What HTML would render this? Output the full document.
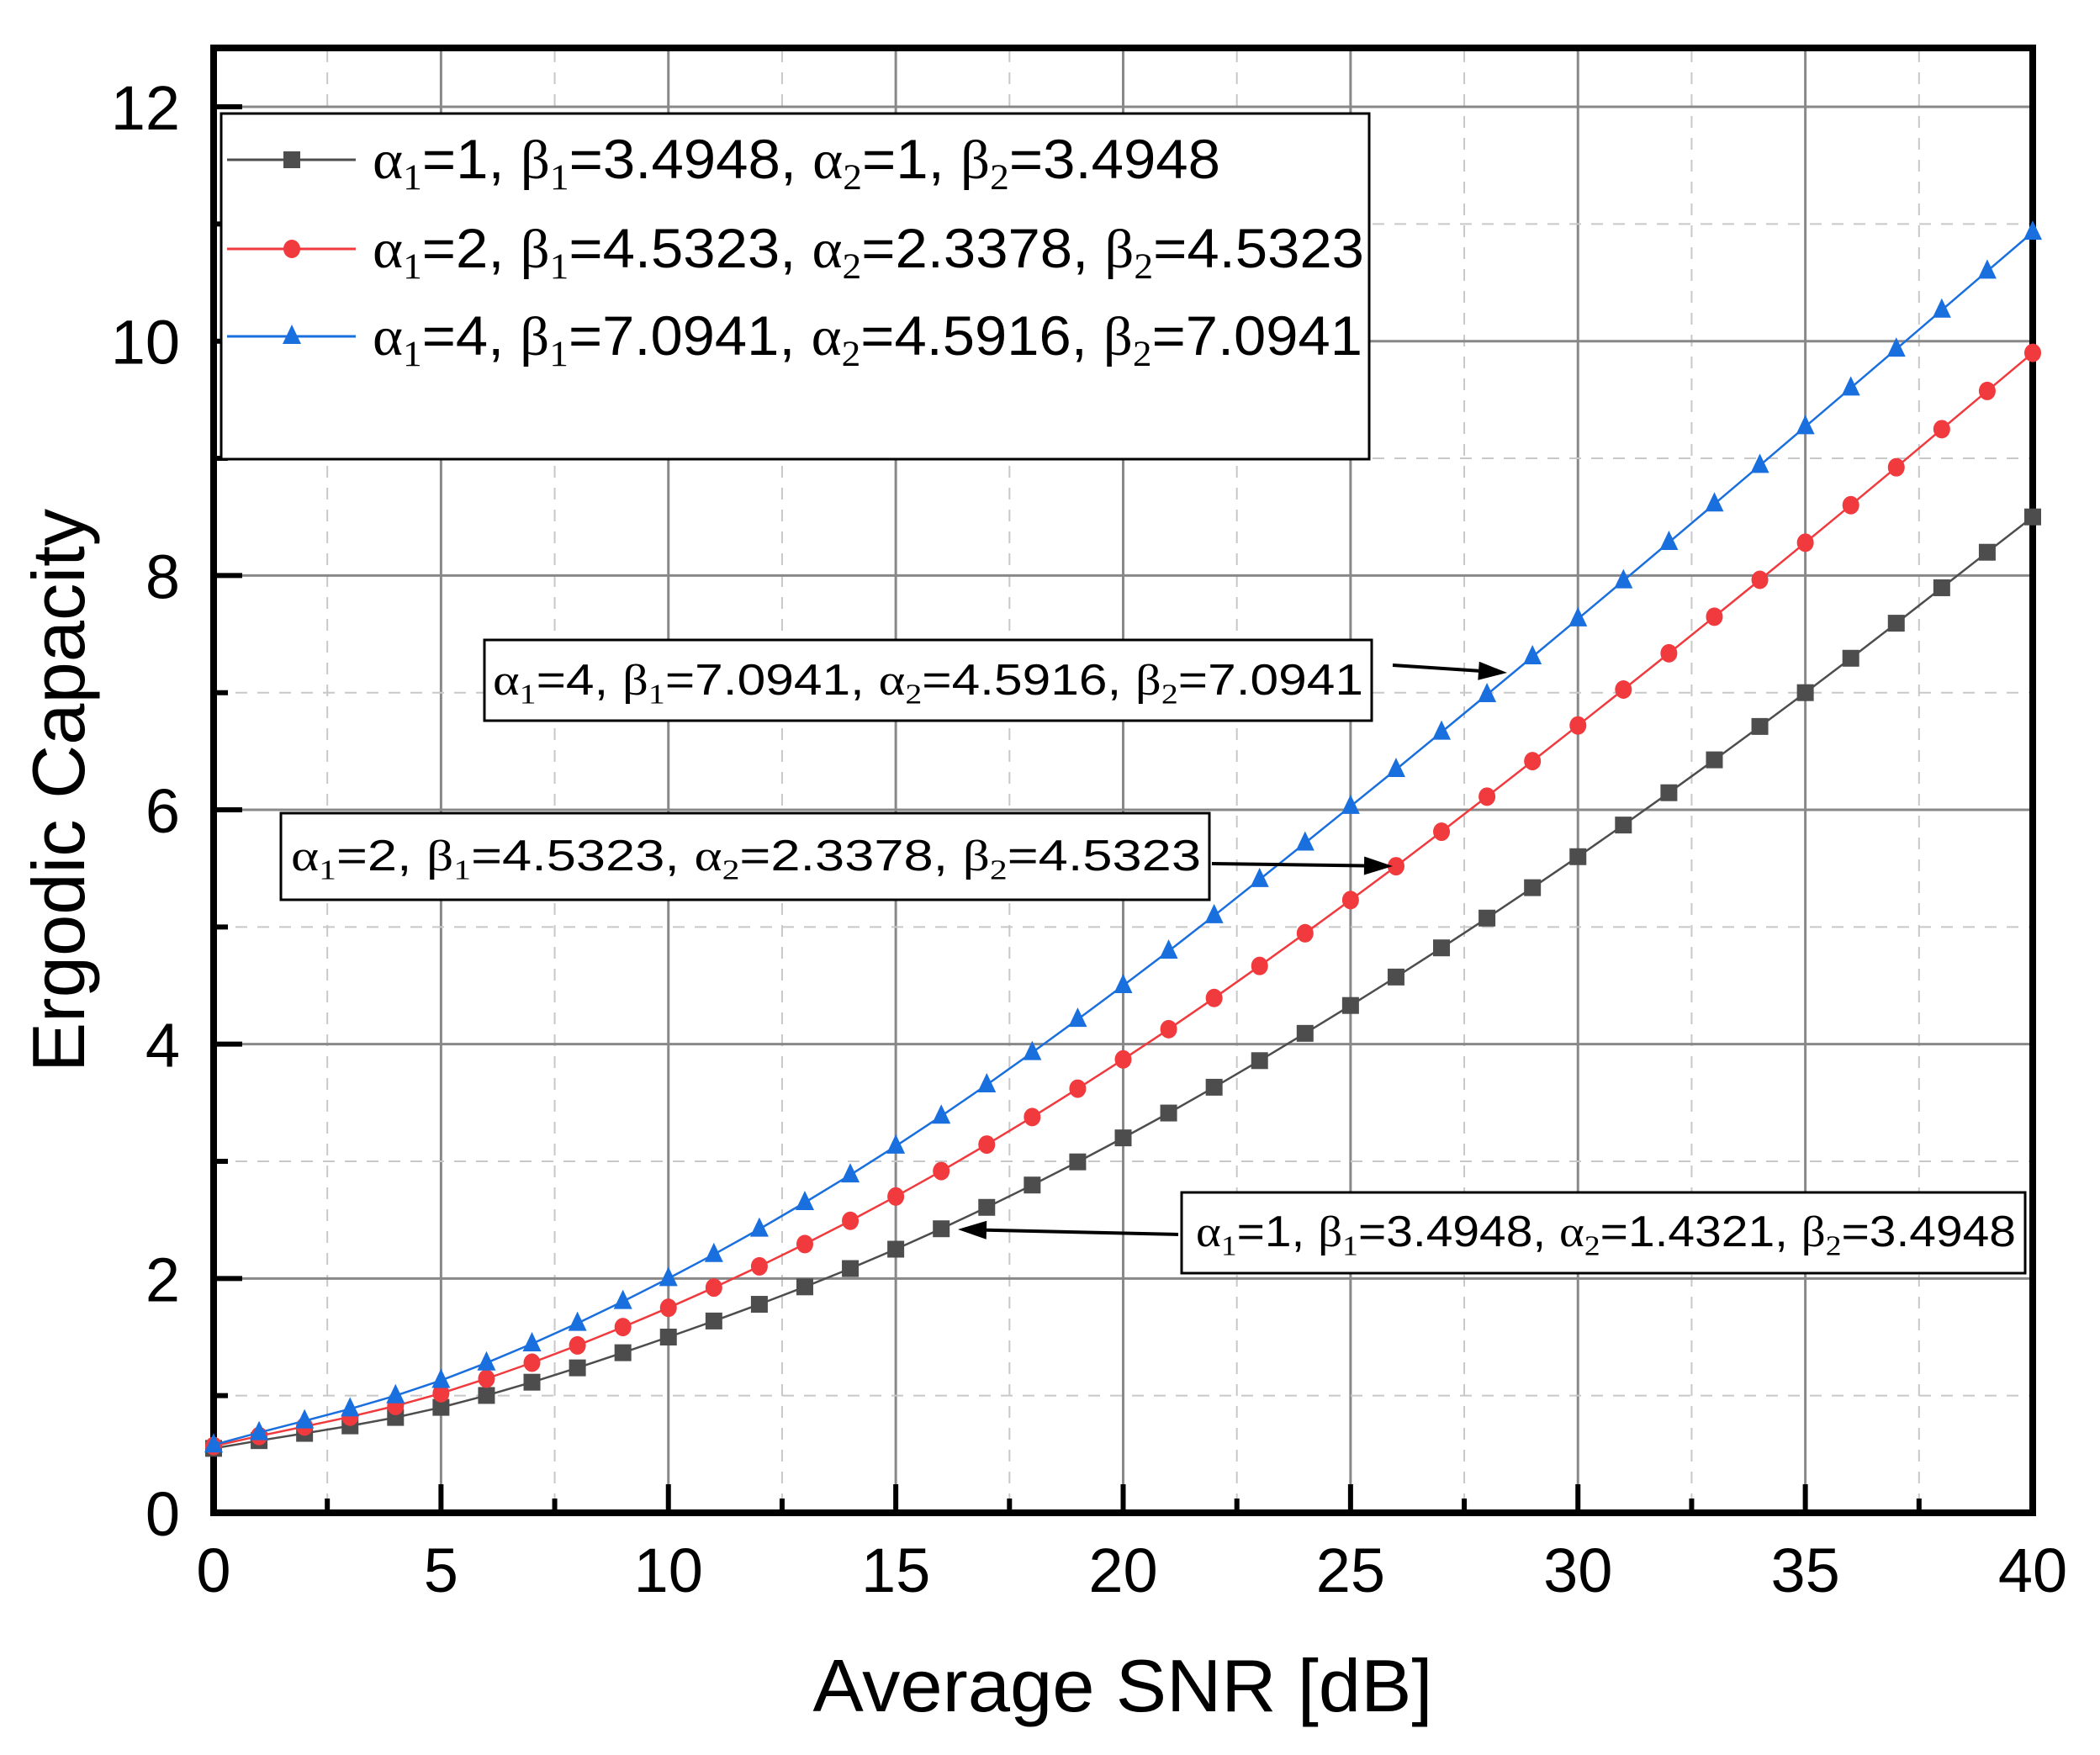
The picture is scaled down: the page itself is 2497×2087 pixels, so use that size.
<!DOCTYPE html>
<html><head><meta charset="utf-8"><style>html,body{margin:0;padding:0;background:#fff}svg{display:block}</style></head>
<body>
<svg id="s" xmlns="http://www.w3.org/2000/svg" width="2497" height="2087" viewBox="0 0 2497 2087" font-family="Liberation Sans, Arial, sans-serif">
<rect width="2497" height="2087" fill="#fff"/>
<g id="grid"></g>
<g id="axes"></g>
<rect x="263" y="135" width="1365" height="411" fill="#fff" stroke="#000" stroke-width="3"/>
<g id="curves"></g>
<g id="legend"></g>
<g id="ann"></g>
<text x="1335" y="2035" font-size="88" text-anchor="middle" textLength="737" lengthAdjust="spacingAndGlyphs">Average SNR [dB]</text>
<text transform="translate(100,940) rotate(-90)" font-size="88" text-anchor="middle" textLength="670" lengthAdjust="spacingAndGlyphs">Ergodic Capacity</text>
</svg>
<script>
const NS="http://www.w3.org/2000/svg";
const X=v=>254+v*54.075, Y=v=>1799-v*139.33;
function el(p,t,a,txt){const e=document.createElementNS(NS,t);for(const k in a)e.setAttribute(k,a[k]);if(txt!==undefined)e.textContent=txt;p.appendChild(e);return e;}
const g=document.getElementById('grid'),ax=document.getElementById('axes'),cv=document.getElementById('curves'),lg=document.getElementById('legend'),an=document.getElementById('ann');
// grid
for(let i=1;i<16;i++){const v=i*2.5,x=X(v);const major=i%2==0;
 el(g,'line',{x1:x,y1:60,x2:x,y2:1799,stroke:major?'#888':'#c8c8c8','stroke-width':major?3:2,'stroke-dasharray':major?'':'14,12'});}
for(let i=1;i<=12;i++){const y=Y(i);const major=i%2==0;
 el(g,'line',{x1:254,y1:y,x2:2417,y2:y,stroke:major?'#888':'#c8c8c8','stroke-width':major?3:2,'stroke-dasharray':major?'':'14,12'});}
// axes
el(ax,'rect',{x:254,y:57,width:2163,height:1742,fill:'none',stroke:'#000','stroke-width':8});
for(let i=0;i<=16;i++){const x=X(i*2.5),L=i%2==0?34:17;el(ax,'line',{x1:x,y1:1799,x2:x,y2:1799-L,stroke:'#000','stroke-width':6});}
for(let i=0;i<=12;i++){const y=Y(i),L=i%2==0?34:17;el(ax,'line',{x1:254,y1:y,x2:254+L,y2:y,stroke:'#000','stroke-width':6});}
for(let i=0;i<=8;i++)el(ax,'text',{x:X(i*5),y:1893,'font-size':74,'text-anchor':'middle'},String(i*5));
for(let i=0;i<=12;i+=2)el(ax,'text',{x:214,y:Y(i)+27,'font-size':74,'text-anchor':'end'},String(i));
// data
const A={gray:[0.55,0.9,1.5,2.25,3.2,4.33,5.6,7.0,8.5],red:[0.57,1.02,1.75,2.7,3.87,5.23,6.72,8.28,9.9],blue:[0.58,1.13,2.0,3.13,4.5,6.03,7.63,9.27,10.93]};
function val(a,x){const i=Math.min(7,Math.floor(x/5)),t=(x-i*5)/5;const p0=a[Math.max(0,i-1)],p1=a[i],p2=a[i+1],p3=a[Math.min(8,i+2)];
 let m0=(p2-(i>0?p0:p1-(p2-p1)))/2,m1=((i+2<=8?p3:p2+(p2-p1))-p1)/2;
 const t2=t*t,t3=t2*t;return (2*t3-3*t2+1)*p1+(t3-2*t2+t)*m0+(-2*t3+3*t2)*p2+(t3-t2)*m1;}
const cols={gray:'#4d4d4d',red:'#f03a3e',blue:'#1a6fdf'};
function marker(p,k,x,y){const c=cols[k];
 if(k=='gray')el(p,'rect',{x:x-10,y:y-10,width:20,height:20,fill:c});
 else if(k=='red')el(p,'ellipse',{cx:x,cy:y,rx:10,ry:11,fill:c});
 else el(p,'path',{d:`M${x},${y-14} L${x+11},${y+9} L${x-11},${y+9} Z`,fill:c});}
for(const k of ['gray','red','blue']){let pts=[];for(let i=0;i<=40;i++)pts.push(X(i).toFixed(1)+','+Y(val(A[k],i)).toFixed(1));
 el(cv,'polyline',{points:pts.join(' '),fill:'none',stroke:cols[k],'stroke-width':2.5});
 for(let i=0;i<=40;i++)marker(cv,k,X(i),Y(val(A[k],i)));}
// rich text
function rich(p,x,y,fs,parts,len){const t=el(p,'text',{x:x,y:y,'font-size':fs});if(len){t.setAttribute('textLength',len);t.setAttribute('lengthAdjust','spacingAndGlyphs');}
 for(const [s,type] of parts){const ts=el(t,'tspan',{},s);
  if(type=='g'){ts.setAttribute('font-family','Liberation Serif, serif');}
  if(type=='s'){ts.setAttribute('font-family','Liberation Serif, serif');ts.setAttribute('font-size',fs*0.66);ts.setAttribute('dy',fs*0.2);}
  if(type=='a'){ts.setAttribute('dy',-fs*0.2);}}
 return t;}
function label(a1,b1,a2,b2){return [['α','g'],['1','s'],['='+a1+', ','a'],['β','g'],['1','s'],['='+b1+', ','a'],['α','g'],['2','s'],['='+a2+', ','a'],['β','g'],['2','s'],['='+b2,'a']];}
const L=[['gray',212,label('1','3.4948','1','3.4948'),1008],['red',318,label('2','4.5323','2.3378','4.5323'),1179],['blue',422,label('4','7.0941','4.5916','7.0941'),1177]];
for(const [k,y,parts,len] of L){const cy=y-22;el(lg,'line',{x1:270,y1:cy,x2:423,y2:cy,stroke:cols[k],'stroke-width':3});marker(lg,k,347,cy);rich(lg,443,y,66,parts,len);}
// annotations
function box(x1,y1,x2,y2,tx,ty,parts,len){el(an,'rect',{x:x1,y:y1,width:x2-x1,height:y2-y1,fill:'#fff',stroke:'#000','stroke-width':3});rich(an,tx,ty,52,parts,len);}
box(576,761,1631,857,586,826,label('4','7.0941','4.5916','7.0941'),1035);
box(334,967,1438,1070,346,1035,label('2','4.5323','2.3378','4.5323'),1082);
box(1405,1418,2408,1514,1422,1482,label('1','3.4948','1.4321','3.4948'),975);
function arrow(x1,y1,x2,y2){const a=Math.atan2(y2-y1,x2-x1),h=34,w=11;const bx=x2-h*Math.cos(a),by=y2-h*Math.sin(a);
 el(an,'line',{x1:x1,y1:y1,x2:bx,y2:by,stroke:'#000','stroke-width':4});
 el(an,'path',{d:`M${x2},${y2} L${bx-w*Math.sin(a)},${by+w*Math.cos(a)} L${bx+w*Math.sin(a)},${by-w*Math.cos(a)} Z`,fill:'#000'});}
arrow(1656,791,1792,800);arrow(1441,1027,1656,1030);arrow(1401,1468,1139,1462);
</script>
</body></html>
